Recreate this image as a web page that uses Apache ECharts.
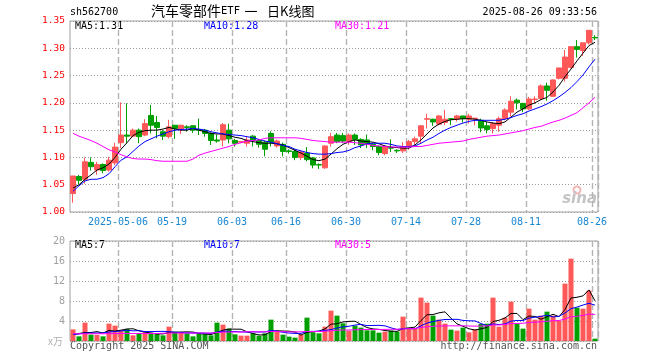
<!DOCTYPE html>
<html>
<head>
<meta charset="utf-8">
<script src="https://cdn.jsdelivr.net/npm/echarts@6/dist/echarts.min.js"></script>
<style>html,body{margin:0;padding:0;background:#fff;}#c{width:660px;height:360px;}</style>
</head>
<body>
<div id="c"></div>
<script>
const dates = [
'2025-04-21','2025-04-22','2025-04-23','2025-04-24','2025-04-25','2025-04-28','2025-04-29','2025-04-30',
'2025-05-06','2025-05-07','2025-05-08','2025-05-09','2025-05-12','2025-05-13','2025-05-14','2025-05-15','2025-05-16',
'2025-05-19','2025-05-20','2025-05-21','2025-05-22','2025-05-23','2025-05-26','2025-05-27','2025-05-28','2025-05-29','2025-05-30',
'2025-06-03','2025-06-04','2025-06-05','2025-06-06','2025-06-09','2025-06-10','2025-06-11','2025-06-12','2025-06-13',
'2025-06-16','2025-06-17','2025-06-18','2025-06-19','2025-06-20','2025-06-23','2025-06-24','2025-06-25','2025-06-26','2025-06-27',
'2025-06-30','2025-07-01','2025-07-02','2025-07-03','2025-07-04','2025-07-07','2025-07-08','2025-07-09','2025-07-10','2025-07-11',
'2025-07-14','2025-07-15','2025-07-16','2025-07-17','2025-07-18','2025-07-21','2025-07-22','2025-07-23','2025-07-24','2025-07-25',
'2025-07-28','2025-07-29','2025-07-30','2025-07-31','2025-08-01','2025-08-04','2025-08-05','2025-08-06','2025-08-07','2025-08-08',
'2025-08-11','2025-08-12','2025-08-13','2025-08-14','2025-08-15','2025-08-18','2025-08-19','2025-08-20','2025-08-21','2025-08-22',
'2025-08-25','2025-08-26'];

const labelDates = ['2025-05-06','2025-05-19','2025-06-03','2025-06-16','2025-06-30','2025-07-14','2025-07-28','2025-08-11','2025-08-26'];

const openP = [1.034,1.065,1.060,1.091,1.077,1.087,1.077,1.090,1.127,1.141,1.139,1.150,1.141,1.177,1.164,1.147,1.138,1.159,1.151,1.156,
1.158,1.151,1.150,1.144,1.132,1.132,1.150,1.131,1.128,1.126,1.139,1.131,1.128,1.144,1.121,1.124,1.112,1.111,1.100,1.108,
1.099,1.087,1.081,1.126,1.141,1.140,1.129,1.141,1.133,1.132,1.124,1.120,1.107,1.118,1.113,1.112,1.120,1.129,1.139,1.170,
1.170,1.161,1.164,1.171,1.170,1.176,1.170,1.171,1.168,1.158,1.153,1.159,1.171,1.183,1.205,1.199,1.189,1.206,1.208,1.231,
1.212,1.245,1.245,1.265,1.303,1.296,1.310,1.320];
const closeP = [1.066,1.058,1.092,1.083,1.087,1.076,1.095,1.119,1.141,1.139,1.150,1.138,1.162,1.159,1.155,1.139,1.156,1.153,1.159,1.155,
1.150,1.150,1.144,1.131,1.130,1.160,1.134,1.126,1.129,1.132,1.131,1.124,1.115,1.128,1.130,1.111,1.111,1.100,1.110,1.096,
1.086,1.086,1.121,1.138,1.129,1.130,1.141,1.133,1.123,1.124,1.120,1.109,1.120,1.117,1.112,1.120,1.129,1.134,1.158,1.171,
1.165,1.176,1.170,1.170,1.176,1.171,1.176,1.172,1.154,1.151,1.162,1.171,1.187,1.203,1.200,1.189,1.207,1.207,1.231,1.223,
1.242,1.264,1.284,1.303,1.298,1.310,1.333,1.319];
const lowP = [1.017,1.051,1.052,1.076,1.068,1.071,1.074,1.086,1.117,1.126,1.137,1.126,1.139,1.144,1.135,1.132,1.135,1.134,1.143,1.147,
1.145,1.141,1.138,1.123,1.127,1.120,1.126,1.120,1.126,1.120,1.120,1.118,1.102,1.120,1.118,1.102,1.107,1.095,1.095,1.093,
1.080,1.079,1.079,1.120,1.126,1.126,1.123,1.123,1.117,1.117,1.113,1.104,1.104,1.110,1.108,1.108,1.114,1.123,1.126,1.153,
1.158,1.159,1.159,1.159,1.166,1.164,1.162,1.159,1.146,1.144,1.144,1.147,1.168,1.175,1.188,1.183,1.187,1.199,1.205,1.204,
1.211,1.243,1.239,1.263,1.283,1.286,1.307,1.315];
const highP = [1.066,1.068,1.100,1.100,1.092,1.089,1.101,1.127,1.201,1.199,1.153,1.153,1.170,1.196,1.176,1.150,1.169,1.159,1.160,1.159,
1.159,1.171,1.152,1.146,1.142,1.163,1.162,1.134,1.130,1.138,1.141,1.133,1.131,1.148,1.133,1.127,1.115,1.115,1.113,1.119,
1.101,1.089,1.122,1.145,1.145,1.145,1.144,1.144,1.135,1.142,1.126,1.122,1.122,1.133,1.115,1.128,1.132,1.138,1.159,1.180,
1.171,1.178,1.187,1.171,1.178,1.176,1.180,1.172,1.171,1.165,1.165,1.175,1.190,1.212,1.208,1.200,1.211,1.212,1.234,1.237,
1.243,1.264,1.297,1.303,1.315,1.310,1.333,1.324];

const ma5 = [1.044,1.050,1.060,1.068,1.077,1.081,1.088,1.100,1.115,1.127,1.140,1.146,1.149,1.150,1.150,1.152,1.155,1.152,1.150,1.150,
1.153,1.150,1.147,1.144,1.143,1.143,1.140,1.137,1.135,1.131,1.129,1.127,1.126,1.126,1.125,1.123,1.118,1.113,1.108,1.102,
1.096,1.094,1.097,1.106,1.116,1.124,1.129,1.132,1.130,1.129,1.128,1.125,1.121,1.119,1.118,1.117,1.117,1.123,1.132,1.143,
1.154,1.161,1.166,1.169,1.170,1.171,1.171,1.170,1.168,1.165,1.163,1.162,1.165,1.174,1.183,1.189,1.196,1.200,1.206,1.210,
1.220,1.232,1.248,1.262,1.277,1.291,1.305,1.311];
const ma10 = [1.038,1.048,1.057,1.060,1.060,1.063,1.070,1.083,1.095,1.101,1.111,1.121,1.129,1.134,1.139,1.143,1.147,1.150,1.151,1.152,
1.153,1.152,1.150,1.147,1.145,1.143,1.142,1.141,1.140,1.138,1.136,1.133,1.130,1.128,1.125,1.122,1.120,1.115,1.112,1.109,
1.107,1.106,1.106,1.107,1.109,1.110,1.113,1.118,1.121,1.125,1.126,1.126,1.126,1.124,1.121,1.120,1.120,1.121,1.126,1.132,
1.137,1.144,1.150,1.155,1.159,1.163,1.166,1.168,1.168,1.168,1.168,1.168,1.170,1.173,1.177,1.180,1.185,1.189,1.193,1.198,
1.204,1.211,1.219,1.228,1.239,1.251,1.266,1.280];
const ma30 = [1.144,1.139,1.135,1.131,1.126,1.120,1.114,1.110,1.105,1.101,1.098,1.097,1.097,1.096,1.094,1.093,1.093,1.093,1.093,1.093,
1.097,1.104,1.108,1.111,1.114,1.117,1.120,1.124,1.127,1.130,1.131,1.132,1.135,1.136,1.136,1.136,1.136,1.136,1.135,1.133,
1.131,1.130,1.129,1.128,1.128,1.128,1.128,1.127,1.126,1.124,1.122,1.121,1.120,1.119,1.119,1.119,1.119,1.120,1.120,1.122,
1.124,1.126,1.127,1.128,1.129,1.130,1.133,1.135,1.137,1.139,1.140,1.141,1.143,1.145,1.147,1.149,1.152,1.155,1.157,1.161,
1.165,1.168,1.172,1.177,1.182,1.191,1.200,1.210];

const volume = [2.33,0.93,3.67,1.27,1.2,0.93,3.47,3.07,2.2,2.4,1.13,1.4,1.73,1.4,1.4,1.13,2.87,1.87,1.73,1.53,
0.93,1.4,1.4,1.13,3.67,3.27,2.47,1.33,1.07,1.07,1.53,1.07,1.53,4.27,1.87,1.27,0.87,0.67,1.27,4.67,
1.73,1.53,2.87,6.07,5.07,3.53,2.07,3.07,2.67,2.13,2.13,1.67,1.87,2.07,1.87,4.87,2.53,2.53,8.67,7.67,
5.07,4.27,3.47,2.27,2.07,2.67,1.73,2.27,3.4,3.47,8.67,2.87,4.67,7.87,3.47,2.47,6.47,4.27,5.07,5.87,
5.07,4.07,11.47,16.47,6.67,6.47,10.07,0.47];
const vma5 = [1.3,1.5,1.7,1.7,1.88,1.6,2.11,1.99,2.17,2.41,2.45,2.04,1.77,1.61,1.41,1.41,1.71,1.73,1.8,1.83,
1.79,1.49,1.4,1.28,1.71,2.17,2.39,2.37,2.36,1.84,1.49,1.21,1.25,1.89,2.05,2.0,1.96,1.79,1.19,1.75,
1.84,1.97,2.41,3.37,3.45,3.81,3.92,3.96,3.28,2.69,2.41,2.33,2.09,1.97,1.92,2.47,2.64,2.77,4.09,5.25,
5.29,5.64,5.83,4.55,3.43,2.95,2.44,2.2,2.43,2.71,3.91,4.14,4.62,5.51,5.51,4.27,4.99,4.91,4.35,4.83,
5.35,4.87,6.31,8.59,8.75,9.03,10.23,8.03];
const vma10 = [1.3,1.4,1.6,1.6,1.6,1.6,1.8,1.9,2.0,2.15,2.03,2.07,1.88,1.89,1.91,1.93,1.87,1.75,1.71,1.62,
1.6,1.6,1.57,1.54,1.77,1.98,1.94,1.89,1.82,1.78,1.83,1.8,1.81,2.13,1.95,1.75,1.59,1.52,1.54,1.9,
1.92,1.97,2.1,2.28,2.6,2.83,2.95,3.19,3.33,3.07,3.11,3.13,3.03,2.63,2.31,2.44,2.49,2.43,3.03,3.59,
3.88,4.14,4.3,4.32,4.34,4.12,4.04,4.02,3.49,3.07,3.43,3.29,3.41,3.97,4.11,4.09,4.57,4.77,4.93,5.17,
4.81,4.93,5.61,6.47,6.79,7.19,7.55,7.17];
const vma30 = [1.45,1.45,1.45,1.45,1.45,1.45,1.45,1.5,1.5,1.5,1.5,1.5,1.5,1.5,1.5,1.55,1.6,1.6,1.6,1.6,
1.6,1.6,1.6,1.6,1.7,1.75,1.8,1.8,1.8,1.85,1.83,1.85,1.82,1.9,1.9,1.85,1.82,1.82,1.85,1.9,
1.9,1.9,1.95,2.05,2.15,2.2,2.2,2.25,2.28,2.3,2.3,2.3,2.32,2.35,2.33,2.42,2.45,2.5,2.7,2.85,
2.95,3.0,3.03,3.03,3.03,3.05,3.0,2.97,3.0,3.02,3.2,3.2,3.3,3.5,3.5,3.55,3.7,3.77,3.85,3.95,
4.05,4.1,4.4,4.85,4.95,5.1,5.4,5.32];

const priceTicks = {min: 1.00, max: 1.35, interval: 0.05};
const volTicks = {min: 0, max: 20, interval: 4};

const UP = '#ff5858', DOWN = '#00a000';
const MONO = '"DejaVu Sans Mono", "Liberation Mono", monospace';
const CJK = '"Noto Sans CJK SC", sans-serif';

const candleData = dates.map((d, i) => [openP[i], closeP[i], lowP[i], highP[i]]);
const volData = volume.map((v, i) => ({value: v, itemStyle: {color: closeP[i] > openP[i] ? UP : DOWN}}));
const isLabel = (i) => labelDates.indexOf(dates[i]) >= 0;

const chart = echarts.init(document.getElementById('c'), null, {renderer: 'canvas'});
const dotted = {type: [1, 2], color: '#9a9a9a', width: 1};
const dashed = {type: [6, 3], color: '#b4b4b4', width: 1.4};

function txt(x, y, text, color, align, font) {
  return {type: 'text', x: x, y: y, silent: true,
    style: {text: text, fill: color, align: align || 'left', verticalAlign: 'middle', font: font || ('10px ' + MONO)}};
}

chart.setOption({
  animation: false,
  backgroundColor: '#ffffff',
  grid: [
    {left: 70, top: 21, width: 528, height: 191, show: true, borderColor: '#a0a0a0', borderWidth: 1, backgroundColor: 'rgba(0,0,0,0)'},
    {left: 70, top: 241, width: 528, height: 100, show: true, borderColor: '#a0a0a0', borderWidth: 1, backgroundColor: 'rgba(0,0,0,0)'}
  ],
  xAxis: [
    {type: 'category', gridIndex: 0, data: dates, boundaryGap: true,
     axisLine: {show: false}, axisTick: {show: false},
     axisLabel: {interval: (i) => isLabel(i), color: '#1a88d2', fontFamily: MONO, fontSize: 10, margin: 5,
       padding: [0, 6, 0, 0],
       formatter: (v) => v === '2025-05-06' ? v : v.slice(5)},
     splitLine: {show: true, interval: (i) => isLabel(i), lineStyle: dashed}},
    {type: 'category', gridIndex: 1, data: dates, boundaryGap: true,
     axisLine: {show: false}, axisTick: {show: false}, axisLabel: {show: false},
     splitLine: {show: true, interval: (i) => isLabel(i), lineStyle: dashed}}
  ],
  yAxis: [
    {type: 'value', gridIndex: 0, min: priceTicks.min, max: priceTicks.max, interval: priceTicks.interval,
     axisLine: {show: false}, axisTick: {show: false},
     axisLabel: {color: '#ff0000', fontFamily: MONO, fontSize: 9.5, margin: 5, formatter: (v) => v.toFixed(2)},
     splitLine: {show: true, lineStyle: dotted}},
    {type: 'value', gridIndex: 1, min: volTicks.min, max: volTicks.max, interval: volTicks.interval,
     axisLine: {show: false}, axisTick: {show: false},
     axisLabel: {color: '#a0a0a0', fontFamily: MONO, fontSize: 10, margin: 5, formatter: (v) => v === 0 ? '' : String(v)},
     splitLine: {show: true, lineStyle: dotted}}
  ],
  series: [
    {type: 'candlestick', xAxisIndex: 0, yAxisIndex: 0, data: candleData, barWidth: 5,
     itemStyle: {color: UP, color0: DOWN, borderColor: UP, borderColor0: DOWN, borderWidth: 1}},
    {type: 'line', xAxisIndex: 0, yAxisIndex: 0, data: ma5, symbol: 'none', lineStyle: {color: '#000000', width: 1}, z: 5},
    {type: 'line', xAxisIndex: 0, yAxisIndex: 0, data: ma10, symbol: 'none', lineStyle: {color: '#0000ff', width: 1}, z: 5},
    {type: 'line', xAxisIndex: 0, yAxisIndex: 0, data: ma30, symbol: 'none', lineStyle: {color: '#ff00ff', width: 1}, z: 5},
    {type: 'bar', xAxisIndex: 1, yAxisIndex: 1, data: volData, barWidth: 5},
    {type: 'line', xAxisIndex: 1, yAxisIndex: 1, data: vma5, symbol: 'none', lineStyle: {color: '#000000', width: 1}, z: 5},
    {type: 'line', xAxisIndex: 1, yAxisIndex: 1, data: vma10, symbol: 'none', lineStyle: {color: '#0000ff', width: 1}, z: 5},
    {type: 'line', xAxisIndex: 1, yAxisIndex: 1, data: vma30, symbol: 'none', lineStyle: {color: '#ff00ff', width: 1}, z: 5}
  ],
  graphic: [
    txt(70, 12.5, 'sh562700', '#000'),
    txt(151, 11, '汽车零部件', '#000', 'left', '14px ' + CJK),
    txt(221, 11.5, 'ETF', '#000', 'left', '10.5px ' + MONO),
    txt(251, 11, '一', '#000', 'center', '13px ' + CJK),
    txt(267, 11, '日K线图', '#000', 'left', '13px ' + CJK),
    txt(597, 12.2, '2025-08-26 09:33:56', '#000', 'right'),
    txt(75, 26.5, 'MA5:1.31', '#000'),
    txt(204, 26.5, 'MA10:1.28', '#0000ff'),
    txt(335, 26.5, 'MA30:1.21', '#ff00ff'),
    txt(75, 245.5, 'MA5:7', '#000'),
    txt(204, 245.5, 'MA10:7', '#0000ff'),
    txt(335, 245.5, 'MA30:5', '#ff00ff'),
    txt(63, 341.5, 'x万', '#b0b0b0', 'right', '10px "Noto Sans CJK SC", serif'),
    txt(70, 346, 'Copyright 2025 SINA.COM', '#555555'),
    txt(597, 346, 'http://finance.sina.com.cn', '#555555', 'right'),
    {type: 'circle', shape: {cx: 577, cy: 190, r: 3.5}, silent: true, style: {fill: 'none', stroke: '#f4b4b4', lineWidth: 2}},
    txt(597, 199.5, 'sina', '#c4c4c4', 'right', 'italic bold 15px "DejaVu Sans", sans-serif')
  ]
});
</script>
</body>
</html>
